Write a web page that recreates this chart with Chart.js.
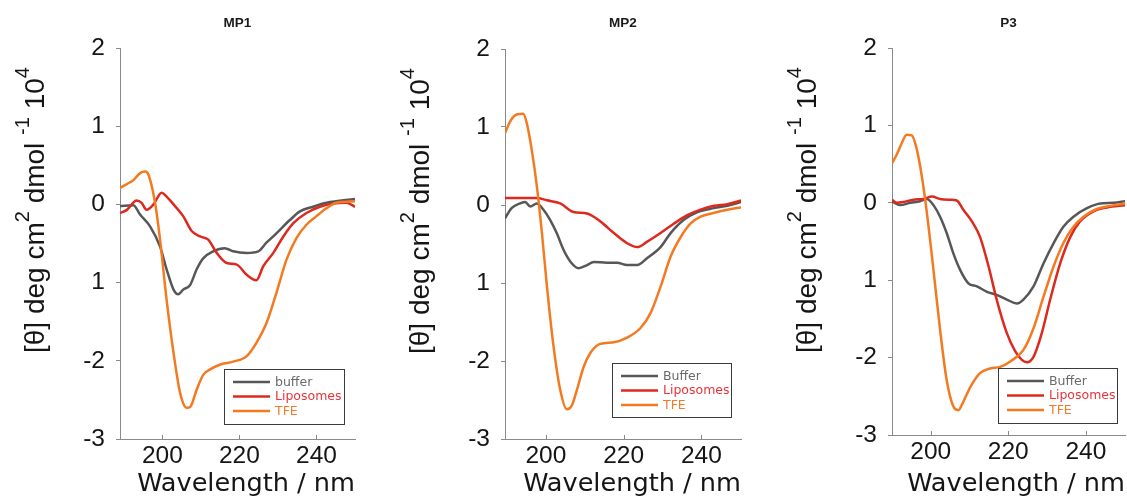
<!DOCTYPE html>
<html><head><meta charset="utf-8">
<script src="https://cdn.jsdelivr.net/npm/chart.js@4.4.0/dist/chart.umd.min.js"></script>
<style>
html,body{margin:0;padding:0;background:#fff;width:1127px;height:498px;overflow:hidden;}
canvas{position:absolute;top:0;}
</style></head><body>
<canvas id="c1" width="380" height="498" style="left:0px"></canvas>
<canvas id="c2" width="380" height="498" style="left:380px"></canvas>
<canvas id="c3" width="367" height="498" style="left:760px"></canvas>
<script>
// ---------- data ----------
const panelTitles = ['MP1', 'MP2', 'P3'];
const legendLabels1 = ['buffer', 'Liposomes', 'TFE'];
const legendLabels23 = ['Buffer', 'Liposomes', 'TFE'];
const xTickValues = [200, 220, 240];
const yTickValues = [-3, -2, -1, 0, 1, 2];
const yTickLabels = ['-3', '-2', '1', '0', '1', '2'];
const xTitle = 'Wavelength / nm';

// MP1
const mp1BufWl  = [189,192.5,194.2,196.8,199.4,201.1,202.9,204.1,205.4,207.2,208.9,210.6,213.2,216.2,218.4,221.9,224.9,227,229.6,233.1,235.7,239.1,242.6,250];
const mp1BufVal = [-0.02,-0.01,-0.13,-0.28,-0.54,-0.83,-1.09,-1.15,-1.09,-1.03,-0.83,-0.69,-0.60,-0.56,-0.60,-0.62,-0.60,-0.49,-0.37,-0.20,-0.09,-0.03,0.02,0.07];
const mp1LipWl  = [189,190.8,193.3,194.6,195.9,197.7,199.8,201.1,202.9,205.4,207.6,209.8,211.9,214.1,216.7,219.3,221.9,224.4,226.2,228.8,231.4,234,237.4,240.9,244.3,247.8,250];
const mp1LipVal = [-0.11,-0.07,0.05,0.02,-0.07,0.0,0.15,0.10,0.0,-0.15,-0.34,-0.41,-0.45,-0.62,-0.75,-0.77,-0.90,-0.97,-0.79,-0.62,-0.41,-0.24,-0.11,-0.03,0.01,0.02,-0.03];
const mp1TfeWl  = [189,190.8,192.5,194.2,195.5,196.4,198.1,199.4,201.1,202.9,204.6,206.3,207.2,208.9,210.6,212.4,214.9,218.4,221.9,224.4,227,229.6,232.2,234.8,237.4,240,242.6,245.2,250];
const mp1TfeVal = [0.21,0.26,0.31,0.40,0.42,0.38,0.02,-0.45,-1.22,-1.90,-2.41,-2.60,-2.59,-2.37,-2.18,-2.11,-2.05,-2.01,-1.94,-1.77,-1.52,-1.13,-0.71,-0.43,-0.26,-0.15,-0.05,0.02,0.04];

// MP2
const mp2BufWl  = [189.5,191.2,193.4,194.7,196,197.7,199.4,201.1,202.8,204.6,206.7,208.4,210.6,212.3,215.7,218.3,220.9,223.5,226.1,229.5,232.1,235.5,239,243.3,246.7,250.3];
const mp2BufVal = [-0.17,-0.04,0.02,0.04,-0.02,0.02,-0.06,-0.19,-0.36,-0.58,-0.75,-0.81,-0.77,-0.73,-0.74,-0.74,-0.77,-0.77,-0.68,-0.54,-0.36,-0.19,-0.09,-0.04,-0.01,0.04];
const mp2LipWl  = [189.5,193.4,197.7,200.3,203.7,207.1,210.6,214,217.5,220.9,223.5,226.1,229.5,232.9,236.4,239.8,243.3,246.7,250.3];
const mp2LipVal = [0.09,0.09,0.09,0.06,0.02,-0.09,-0.11,-0.21,-0.36,-0.49,-0.54,-0.47,-0.36,-0.24,-0.13,-0.06,-0.01,0.01,0.06];
const mp2TfeWl  = [189.5,190.8,192.5,194.2,195.1,196.4,197.7,199,200.3,202,203.7,205.4,206.7,208,209.7,211.4,214,217.5,220.9,224.3,226.9,229.5,232.1,234.7,237.2,239.8,243.3,246.7,250.3];
const mp2TfeVal = [0.92,1.07,1.16,1.17,1.05,0.70,0.24,-0.36,-1.05,-1.82,-2.37,-2.62,-2.57,-2.37,-2.08,-1.90,-1.78,-1.76,-1.70,-1.58,-1.39,-1.05,-0.66,-0.41,-0.24,-0.15,-0.10,-0.06,-0.03];

// P3
const p3BufWl  = [190,192.1,194.7,197.2,199,200.7,202.4,204.1,205.8,207.6,209.7,211.9,214.5,217,219.6,222.2,223.9,226.5,229.1,231.7,234.2,236.8,240.3,243.7,247.1,250.2];
const p3BufVal = [0.02,-0.03,0.0,0.02,0.05,-0.03,-0.18,-0.39,-0.65,-0.87,-1.04,-1.08,-1.15,-1.19,-1.25,-1.30,-1.25,-1.08,-0.78,-0.52,-0.31,-0.18,-0.07,-0.01,0.0,0.02];
const p3LipWl  = [190,191.2,192.9,195.5,198.1,200.3,202.4,205,206.7,208.4,210.6,212.7,214.9,217,219.6,221.8,223.5,224.8,226.5,228.6,230.8,233.4,236,238.5,242,245.4,250.2];
const p3LipVal = [0.04,0.0,0.01,0.04,0.05,0.08,0.05,0.04,0.03,-0.09,-0.24,-0.44,-0.82,-1.25,-1.68,-1.92,-2.03,-2.06,-1.99,-1.69,-1.25,-0.78,-0.44,-0.24,-0.11,-0.06,-0.03];
const p3TfeWl  = [190,191.2,192.5,193.8,195.1,196.4,197.7,199,200.7,202.4,204.1,205.8,207.1,208.4,210.2,212.7,215.3,217.9,220.5,223.9,226.5,229.1,231.7,234.2,236.8,239.4,242.8,246.3,250.2];
const p3TfeVal = [0.51,0.62,0.77,0.88,0.87,0.69,0.34,-0.13,-0.87,-1.64,-2.29,-2.63,-2.68,-2.57,-2.38,-2.20,-2.14,-2.12,-2.05,-1.90,-1.62,-1.21,-0.82,-0.52,-0.31,-0.18,-0.08,-0.04,-0.01];

// ---------- styles ----------
const FONT_WIDE = '"DejaVu Sans", Verdana, sans-serif';
const FONT_HELV = '"Liberation Sans", Arial, Helvetica, sans-serif';
const AXIS = '#8a8a8a';
const TEXT = '#151515';
const lineColors = ['#575757', '#dc2a1f', '#f47a22'];
const legendTextColors = ['#6a6a6a', '#e8343a', '#f47a2a'];

const panels = [
  { id:'c1', title:panelTitles[0], labels:legendLabels1, xMin:189, xMax:250,
    wl:[mp1BufWl, mp1LipWl, mp1TfeWl], val:[mp1BufVal, mp1LipVal, mp1TfeVal],
    yWidth:120, padRight:25, padTop:48, xHeight:59, legend:{x:224,y:369,w:120,h:55} },
  { id:'c2', title:panelTitles[1], labels:legendLabels23, xMin:189.5, xMax:250.2,
    wl:[mp2BufWl, mp2LipWl, mp2TfeWl], val:[mp2BufVal, mp2LipVal, mp2TfeVal],
    yWidth:125, padRight:19, padTop:49, xHeight:59, legend:{x:232,y:363,w:119,h:54} },
  { id:'c3', title:panelTitles[2], labels:legendLabels23, xMin:190, xMax:250.1,
    wl:[p3BufWl, p3LipWl, p3TfeWl], val:[p3BufVal, p3LipVal, p3TfeVal],
    yWidth:132, padRight:2, padTop:48, xHeight:63, legend:{x:238,y:368,w:119,h:55} }
];

function decorPlugin(p) {
  return {
    id: 'decor',
    afterDraw(chart) {
      const ctx = chart.ctx, ca = chart.chartArea, xs = chart.scales.x;
      ctx.save();
      // inward x ticks
      ctx.strokeStyle = AXIS; ctx.lineWidth = 1;
      xs.ticks.forEach(t => {
        const px = Math.round(xs.getPixelForValue(t.value)) + 0.5;
        ctx.beginPath(); ctx.moveTo(px, ca.bottom); ctx.lineTo(px, ca.bottom - 4); ctx.stroke();
      });
      // panel title
      ctx.fillStyle = '#1a1a1a'; ctx.font = 'bold 13.5px ' + FONT_HELV;
      ctx.textAlign = 'center'; ctx.textBaseline = 'middle';
      ctx.fillText(p.title, (ca.left + ca.right) / 2, 23);
      // y axis title with superscripts
      const segs = [
        ['[\u03B8] deg cm', 28, 0], ['2', 20, -15], [' dmol ', 28, 0], ['-1', 20, -15],
        [' 10', 28, 0], ['4', 20, -15]
      ];
      ctx.save();
      ctx.translate(ca.left - 76.5, ca.top + 305);
      ctx.rotate(-Math.PI / 2);
      ctx.textAlign = 'left'; ctx.textBaseline = 'alphabetic'; ctx.fillStyle = TEXT;
      let x = 0;
      segs.forEach(s => {
        ctx.font = s[1] + 'px ' + FONT_HELV;
        ctx.fillText(s[0], x, s[2]);
        x += ctx.measureText(s[0]).width;
      });
      ctx.restore();
      // legend
      const lb = p.legend;
      ctx.fillStyle = '#fff';
      ctx.fillRect(lb.x, lb.y, lb.w, lb.h);
      ctx.strokeStyle = '#3a3a3a'; ctx.lineWidth = 1;
      ctx.strokeRect(lb.x + 0.5, lb.y + 0.5, lb.w, lb.h);
      ctx.font = '12.5px ' + FONT_WIDE; ctx.textAlign = 'left'; ctx.textBaseline = 'middle';
      chart.data.datasets.forEach((ds, i) => {
        const yy = lb.y + 13 + i * 14.5;
        ctx.strokeStyle = lineColors[i]; ctx.lineWidth = 2.5;
        ctx.beginPath(); ctx.moveTo(lb.x + 9, yy); ctx.lineTo(lb.x + 46, yy); ctx.stroke();
        ctx.fillStyle = legendTextColors[i];
        ctx.fillText(ds.label, lb.x + 51, yy + 0.5);
      });
      ctx.restore();
    }
  };
}

function makeChart(p) {
  const datasets = [0, 1, 2].map(i => ({
    label: p.labels[i],
    data: p.wl[i].map((w, j) => ({ x: w, y: p.val[i][j] })),
    borderColor: lineColors[i],
    borderWidth: 2.5,
    pointRadius: 0,
    fill: false,
    cubicInterpolationMode: 'monotone',
    order: 3 - i
  }));
  new Chart(document.getElementById(p.id).getContext('2d'), {
    type: 'line',
    data: { datasets },
    options: {
      responsive: false, animation: false, devicePixelRatio: 1,
      layout: { padding: { left: 0, right: p.padRight, top: p.padTop, bottom: 0 } },
      plugins: { legend: { display: false }, tooltip: { enabled: false }, title: { display: false } },
      scales: {
        x: {
          type: 'linear', min: p.xMin, max: p.xMax,
          afterBuildTicks: s => { s.ticks = xTickValues.map(v => ({ value: v })); },
          afterFit: s => { s.height = p.xHeight; },
          ticks: { font: { family: FONT_HELV, size: 24.5 }, color: TEXT, padding: 3, maxRotation: 0, autoSkip: false },
          grid: { drawOnChartArea: false, drawTicks: false },
          border: { color: AXIS, width: 1 },
          title: { display: true, text: xTitle, align: 'end', color: TEXT,
                   font: { family: FONT_WIDE, size: 25.6, lineHeight: 1.1 }, padding: { top: 0, bottom: 0 } }
        },
        y: {
          min: -3, max: 2,
          afterBuildTicks: s => { s.ticks = yTickValues.map(v => ({ value: v })); },
          afterFit: s => { s.width = p.yWidth; },
          ticks: { font: { family: FONT_HELV, size: 24.5 }, color: TEXT, padding: 11,
                   callback: v => yTickLabels[yTickValues.indexOf(v)] },
          grid: { drawOnChartArea: false, drawTicks: true, tickLength: 4, tickColor: AXIS },
          border: { color: AXIS, width: 1 }
        }
      }
    },
    plugins: [decorPlugin(p)]
  });
}
panels.forEach(makeChart);
</script>
</body></html>
